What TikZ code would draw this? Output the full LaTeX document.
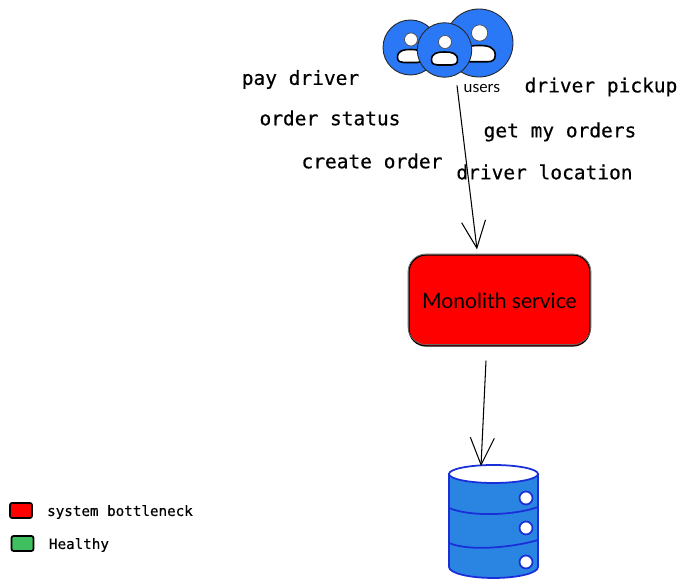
\documentclass[tikz,border=0pt]{standalone}
\usepackage{fontspec}
\setmainfont{Lato}
\newfontfamily\codefont[FakeBold=0.5]{DejaVu Sans Mono}
\usetikzlibrary{arrows.meta,shapes.geometric}
\definecolor{userblue}{HTML}{2A78F5}
\definecolor{dbblue}{HTML}{2A85E2}
\definecolor{dbline}{HTML}{1A2FD8}
\definecolor{healthygreen}{HTML}{40BF60}
\tikzset{
	request/.style={font=\codefont\fontsize{11.1}{13}\selectfont},
	legendtext/.style={font=\codefont\fontsize{8.1}{10}\selectfont},
	userdisc/.style={circle,draw=black!85,fill=userblue,line width=0.5pt,inner sep=0pt},
	swatch/.style={rectangle,rounded corners=1.2pt,draw=black,line width=1pt,minimum width=0.44cm,minimum height=0.3cm,inner sep=0pt},
	bigarrow/.style={-{Straight Barb[length=0.54cm,width=0.48cm]},line width=0.6pt,black},
	dbstroke/.style={draw=dbline,line width=1pt}
}
\def\usericon(#1)[#2]{
	\begin{scope}[shift={(#1)},scale=#2]
		\draw[fill=white,line width=0.4pt,draw=black!70] (0.01, 0.16) circle (0.13);
		\draw[fill=white,line width=0.9pt] (-0.26, -0.2) .. controls (-0.26, -0.06) and (-0.14, -0.04) .. (0, -0.04) .. controls (0.14, -0.04) and (0.26, -0.06) .. (0.26, -0.2) .. controls (0.26, -0.28) and (0.2, -0.3) .. (0.14, -0.3) -- (-0.14, -0.3) .. controls (-0.2, -0.3) and (-0.26, -0.28) .. (-0.26, -0.2) -- cycle;
	\end{scope}
}
\begin{document}
\begin{tikzpicture}
		\useasboundingbox (0, 0) rectangle (13.76, 11.76);
		%%%%% USERS %%%%%
		\node[userdisc,minimum size=1.1cm] (userleft) at (8.21, 10.81) {};
		\usericon(8.21, 10.81)[1]
		\node[userdisc,minimum size=1.36cm] (userright) at (9.58, 10.9) {};
		\usericon(9.58, 10.9)[1.25]
		\node[userdisc,minimum size=1.09cm] (usermid) at (8.89, 10.76) {};
		\usericon(8.89, 10.76)[1]
		\node[font=\fontsize{9}{10}\selectfont] (userlabel) at (9.64, 9.99) {users};

		%%%%% REQUESTS %%%%%
		\node[request] (paydriver) at (6.01, 10.17) {pay driver};
		\node[request] (orderstatus) at (6.6, 9.4) {order status};
		\node[request] (createorder) at (7.44, 8.54) {create order};
		\node[request] (driverpickup) at (12.02, 10.02) {driver pickup};
		\node[request] (getorders) at (11.2, 9.12) {get my orders};
		\node[request] (driverlocation) at (10.89, 8.32) {driver location};

		%%%%% MONOLITH %%%%%
		\node[rectangle,rounded corners=0.34cm,draw=black,fill=red,line width=0.7pt,minimum width=3.62cm,minimum height=1.82cm,inner sep=0pt,font=\fontsize{12}{14}\selectfont] (monolith) at (9.99, 5.75) {Monolith service};
		\draw[black!60,line width=0.4pt,rounded corners=0.36cm] (8.16, 4.87) rectangle (11.82, 6.68);
		\draw[bigarrow] ([xshift=0.25cm,yshift=-0.155cm]usermid.south) -- ([xshift=-0.45cm,yshift=0.1cm]monolith.north);

		%%%%% DATABASE %%%%%
		\draw[dbstroke,fill=dbblue] (8.98, 2.28) -- (8.98, 0.42) arc (180:360:0.89 and 0.22) -- (10.76, 2.28) -- cycle;
		\node[ellipse,dbstroke,fill=white,minimum width=1.78cm,minimum height=0.36cm,inner sep=0pt] (dbtop) at (9.87, 2.28) {};
		\draw[dbstroke] (8.98, 1.6) .. controls (9.4, 1.42) and (10.3, 1.45) .. (10.76, 1.62);
		\draw[dbstroke] (8.98, 0.9) .. controls (9.4, 0.72) and (10.3, 0.82) .. (10.76, 0.96);
		\draw[dbstroke,fill=white] (10.52, 1.8) circle (0.13);
		\draw[dbstroke,fill=white] (10.52, 1.2) circle (0.13);
		\draw[dbstroke,fill=white] (10.52, 0.52) circle (0.13);
		\draw[bigarrow] ([xshift=-0.27cm,yshift=-0.28cm]monolith.south) -- ([xshift=-0.25cm,yshift=-0.04cm]dbtop.north);

		%%%%% LEGEND %%%%%
		\node[swatch,fill=red] (bottleneckbox) at (0.42, 1.55) {};
		\node[legendtext] (bottlenecktext) at (2.4, 1.52) {system bottleneck};
		\node[swatch,fill=healthygreen] (healthybox) at (0.45, 0.89) {};
		\node[legendtext] (healthytext) at (1.58, 0.86) {Healthy};
\end{tikzpicture}
\end{document}
